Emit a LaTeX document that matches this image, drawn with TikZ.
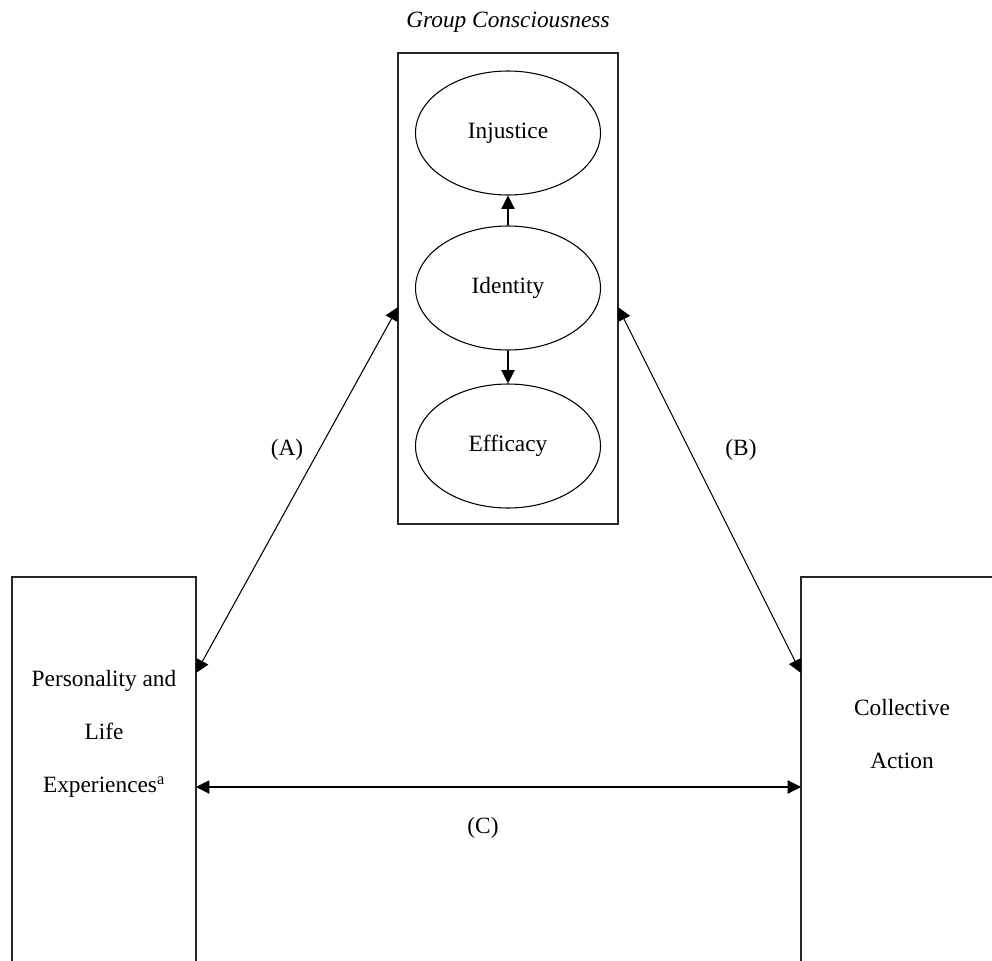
\documentclass[tikz,border=0pt]{standalone}
\usepackage{fontspec}
\setmainfont{Liberation Serif}
\usetikzlibrary{shapes.geometric, arrows.meta, positioning}
\tikzstyle{frame} = [rectangle, draw=black!85, line width=0.8pt, minimum width=165pt, minimum height=353.25pt]
\tikzstyle{factor} = [ellipse, draw=black, line width=0.8pt, minimum width=138.75pt, minimum height=93pt, inner sep=0pt]
\tikzstyle{side} = [rectangle, draw=black!85, line width=0.8pt, minimum height=300pt]
\tikzstyle{lines} = [align=center, font=\fontsize{17.5}{39.75}\selectfont]
\tikzstyle{arrow} = [line width=0.8pt, -{Triangle[length=10pt, width=10pt]}]
\tikzstyle{biarrow} = [line width=0.8pt, {Triangle[length=10pt, width=10pt]}-{Triangle[length=10pt, width=10pt]}]

\begin{document}
\begin{tikzpicture}[x=0.75pt, y=-0.75pt, font=\fontsize{17.5}{21}\selectfont]
    \clip (0,0) rectangle (992,960);
    \useasboundingbox (0,0) rectangle (992,960);

    \node (title) at (508,22) {\textit{Group Consciousness}};
    \node (gc) [frame] at (508,288.5) {};
    \node (injustice) [factor] at (508,133) {Injustice};
    \node (identity) [factor] at (508,288) {Identity};
    \node (efficacy) [factor] at (508,446) {Efficacy};

    \node (pers) [side, minimum width=138pt] at (104,777) {};
    \node (coll) [side, minimum width=151.5pt] at (902,777) {};
    \node (persText) [lines] at (104,734) {Personality and\\Life\\Experiences\textsuperscript{a}};
    \node (collText) [lines] at (902,734) {Collective\\Action};

    % ends of the links on the box borders
    \coordinate (gcL) at (398,307);
    \coordinate (gcR) at (618,307);
    \coordinate (persTop) at (196,673);
    \coordinate (collTop) at (801,673);
    \coordinate (persMid) at (196,787);
    \coordinate (collMid) at (801,787);

    \draw [arrow] (identity) -- (injustice);
    \draw [arrow] (identity) -- (efficacy);
    \draw [biarrow] (persTop) -- (gcL);
    \draw [biarrow] (collTop) -- (gcR);
    \draw [biarrow] (persMid) -- (collMid);

    \node (labA) at (287,450) {(A)};
    \node (labB) at (741,450) {(B)};
    \node (labC) at (483,828) {(C)};
\end{tikzpicture}
\end{document}
